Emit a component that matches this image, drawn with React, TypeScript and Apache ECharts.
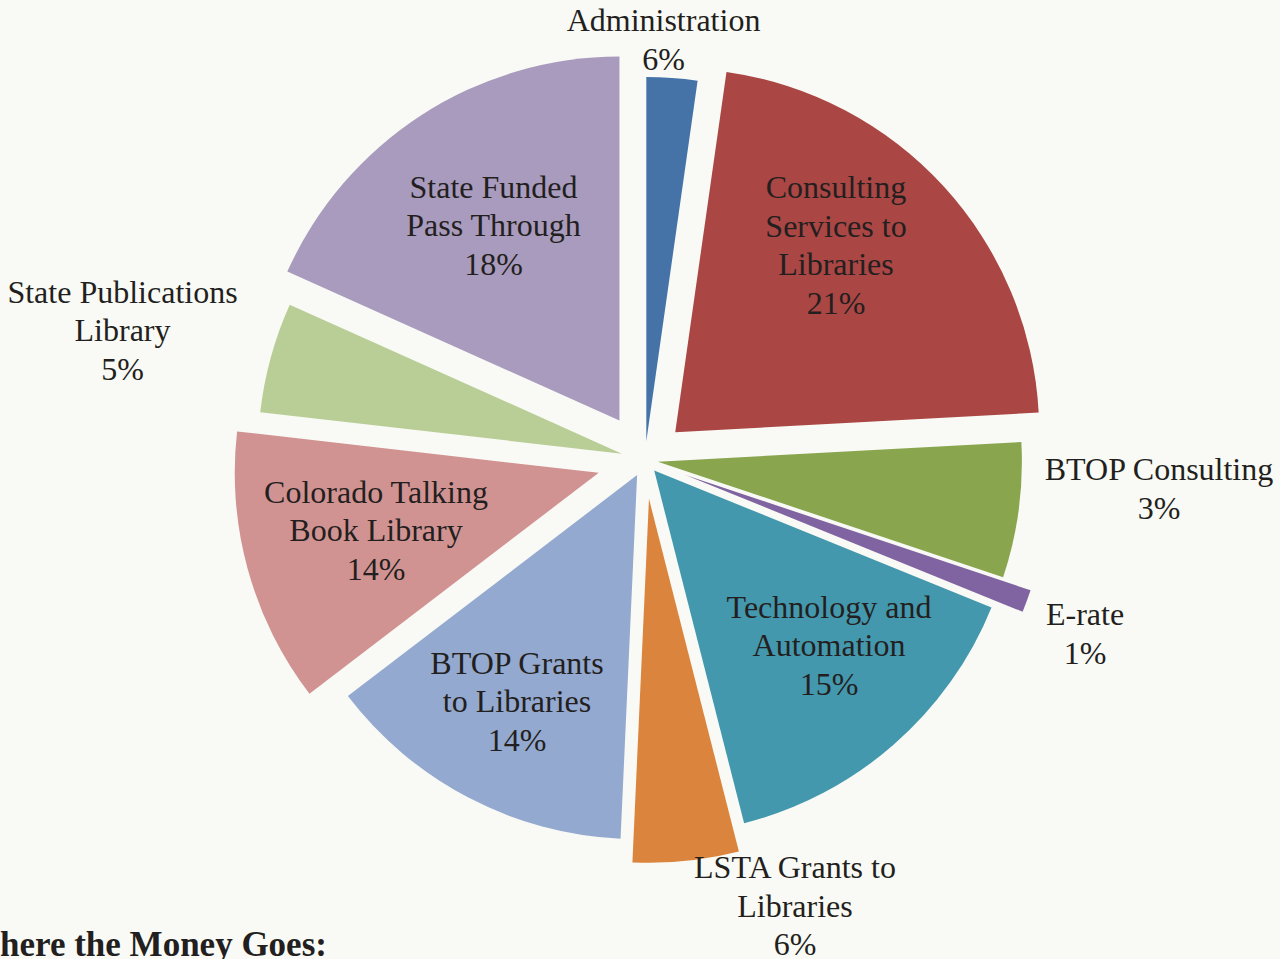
import React, { useEffect, useRef } from "react";
import * as echarts from "echarts";

// Slice names, clockwise from 12 o'clock
const categories = [
  "Administration",
  "Consulting Services to Libraries",
  "BTOP Consulting",
  "E-rate",
  "Technology and Automation",
  "LSTA Grants to Libraries",
  "BTOP Grants to Libraries",
  "Colorado Talking Book Library",
  "State Publications Library",
  "State Funded Pass Through",
];
// Slice sizes as drawn (share of the circle, %)
const sliceValues = [2.25, 21.9, 6.0, 1.0, 14.9, 4.7, 13.9, 12.2, 4.9, 18.3];
// Percentages printed in the labels
const labelPercents = [6, 21, 3, 1, 15, 6, 14, 14, 5, 18];
// Label line breaks as printed
const labelLines = [
  ["Administration"],
  ["Consulting", "Services to", "Libraries"],
  ["BTOP Consulting"],
  ["E-rate"],
  ["Technology and", "Automation"],
  ["LSTA Grants to", "Libraries"],
  ["BTOP Grants", "to Libraries"],
  ["Colorado Talking", "Book Library"],
  ["State Publications", "Library"],
  ["State Funded", "Pass Through"],
];

// ---- layout / style (not data) ----
const colors = [
  "#4573a8", "#aa4643", "#89a54e", "#8064a1", "#4398ae",
  "#db843d", "#93a9cf", "#d19392", "#b9ce96", "#a99bbd",
];
const explode = [19, 41, 13, 43, 14, 39, 17, 48, 24, 47];
const labelPos: [number, number][] = [
  [663.5, 39.5], [836, 245], [1159, 488.5], [1085, 633.5], [829, 645],
  [795, 905.5], [517, 701], [376, 530], [122.5, 330], [493.5, 225],
];
const CX = 645, CY = 460, R = 364;
const FONT = "'Liberation Serif', 'Times New Roman', serif";
const TEXT_COLOR = "#231f20";

export default function App() {
  const ref = useRef<HTMLDivElement>(null);
  useEffect(() => {
    document.body.style.margin = "0";
    document.body.style.overflow = "hidden";
    const chart = echarts.init(ref.current!, null, { renderer: "svg" });
    const total = sliceValues.reduce((a, b) => a + b, 0);
    let cum = 0;
    const series: any[] = categories.map((name, i) => {
      const mid = ((cum + sliceValues[i] / 2) / total) * 2 * Math.PI;
      cum += sliceValues[i];
      const d = explode[i];
      return {
        type: "pie",
        name,
        silent: true,
        z: 1,
        radius: R,
        center: [CX + d * Math.sin(mid), CY - d * Math.cos(mid)],
        startAngle: 90,
        clockwise: true,
        label: { show: false },
        labelLine: { show: false },
        emphasis: { disabled: true },
        data: categories.map((n, j) => ({
          name: n,
          value: sliceValues[j],
          itemStyle: { color: j === i ? colors[j] : "rgba(0,0,0,0)", borderWidth: 0 },
        })),
      };
    });
    const labels = categories.map((_, i) => ({
      type: "text",
      x: labelPos[i][0],
      y: labelPos[i][1],
      z: 100,
      silent: true,
      style: {
        text: [...labelLines[i], labelPercents[i] + "%"].join("\n"),
        fill: TEXT_COLOR,
        font: `32px ${FONT}`,
        lineHeight: 38.5,
        align: "center",
        verticalAlign: "middle",
      },
    }));
    chart.setOption({
      animation: false,
      backgroundColor: "#f9faf5",
      series,
      graphic: {
        elements: [
          ...labels,
          {
            type: "text",
            x: -35,
            y: 944,
            z: 100,
            silent: true,
            style: {
              text: "Where the Money Goes:",
              fill: TEXT_COLOR,
              font: `bold 35px ${FONT}`,
              align: "left",
              verticalAlign: "middle",
            },
          },
        ],
      },
    });
    return () => chart.dispose();
  }, []);
  return <div ref={ref} style={{ width: 1280, height: 959 }} />;
}
